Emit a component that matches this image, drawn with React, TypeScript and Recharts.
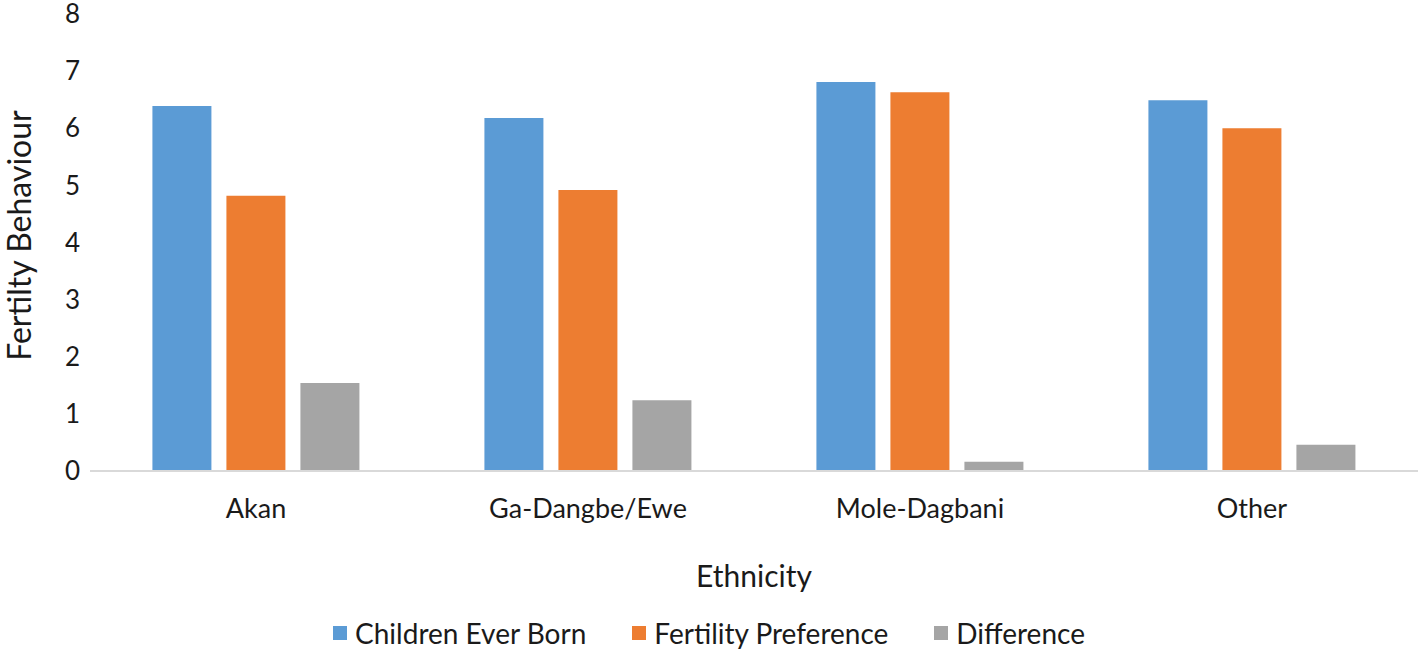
import { BarChart, Bar, XAxis, YAxis, Legend, Label } from 'recharts'

const ethnicities = ['Akan', 'Ga-Dangbe/Ewe', 'Mole-Dagbani', 'Other']
const childrenEverBorn = [6.39, 6.18, 6.81, 6.49]
const fertilityPreference = [4.82, 4.92, 6.63, 6.0]
const difference = [1.54, 1.24, 0.16, 0.46]
const yTicks = [0, 1, 2, 3, 4, 5, 6, 7, 8]

const seriesNames = ['Children Ever Born', 'Fertility Preference', 'Difference']
const seriesColors = ['#5B9BD5', '#ED7D31', '#A5A5A5']

const FONT = 'Lato, "Noto Sans", sans-serif'
const TEXT = '#1a1a1a'

const chartData = ethnicities.map((name, i) => ({
  name,
  ceb: childrenEverBorn[i],
  pref: fertilityPreference[i],
  diff: difference[i],
}))

const keys = ['ceb', 'pref', 'diff']

function LegendRow() {
  return (
    <div
      style={{
        display: 'flex',
        justifyContent: 'center',
        gap: 46,
        paddingTop: 16,
        fontFamily: FONT,
        fontSize: 28,
        color: TEXT,
        lineHeight: '30px',
      }}
    >
      {seriesNames.map((s, i) => (
        <div key={s} style={{ display: 'flex', alignItems: 'center' }}>
          <span
            style={{ width: 14, height: 14, background: seriesColors[i], marginRight: 8, display: 'inline-block' }}
          />
          {s}
        </div>
      ))}
    </div>
  )
}

// rotated y title, nudged a bit above the plot middle like the original
function YTitle(props: any) {
  const vb = props.viewBox
  const cx = 18
  const cy = vb.y + vb.height / 2 - 7
  return (
    <text
      x={cx}
      y={cy}
      transform={`rotate(-90 ${cx} ${cy})`}
      textAnchor="middle"
      dominantBaseline="central"
      fontSize={32}
      fill={TEXT}
      fontFamily={FONT}
    >
      Fertilty Behaviour
    </text>
  )
}

export default function App() {
  return (
    <div style={{ position: 'absolute', left: 0, top: 0, background: '#fff' }}>
      <BarChart
        width={1424}
        height={652}
        data={chartData}
        margin={{ top: 14, right: 6, left: 0, bottom: 0 }}
        barCategoryGap="18.8%"
        barGap={15}
      >
        <XAxis
          dataKey="name"
          height={131}
          tickLine={false}
          tickMargin={22}
          axisLine={{ stroke: '#d9d9d9', strokeWidth: 2 }}
          tick={{ fontSize: 27, fill: TEXT, fontFamily: FONT }}
          label={{
            value: 'Ethnicity',
            position: 'insideBottom',
            offset: 15,
            style: { fontSize: 30, fill: TEXT, fontFamily: FONT },
          }}
        />
        <YAxis
          width={90}
          domain={[0, 8]}
          ticks={yTicks}
          interval={0}
          axisLine={false}
          tickLine={false}
          tickMargin={4}
          tick={{ fontSize: 26, fill: TEXT, fontFamily: FONT }}
        >
          <Label content={YTitle} />
        </YAxis>
        <Legend verticalAlign="bottom" height={50} content={() => <LegendRow />} />
        {keys.map((k, i) => (
          <Bar key={k} dataKey={k} name={seriesNames[i]} fill={seriesColors[i]} isAnimationActive={false} />
        ))}
      </BarChart>
    </div>
  )
}
